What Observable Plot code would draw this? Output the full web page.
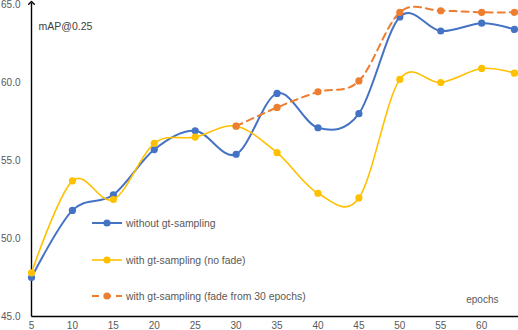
<!DOCTYPE html>
<html>
<head>
<meta charset="utf-8">
<script src="https://cdn.jsdelivr.net/npm/d3@7"></script>
<script src="https://cdn.jsdelivr.net/npm/@observablehq/plot@0.6"></script>
<style>
  body { margin: 0; background: #fff; font-family: "Liberation Sans", Arial, sans-serif; }
  #wrap { position: relative; width: 518px; height: 330px; overflow: hidden; }
  .leg { position: absolute; left: 92px; height: 12px; display: flex; align-items: center; font-size: 10.4px; color: #595959; white-space: nowrap; }
  .leg svg { margin-right: 3px; }
</style>
</head>
<body>
<div id="wrap"></div>
<script>
const epochs = [5, 10, 15, 20, 25, 30, 35, 40, 45, 50, 55, 60, 64];
const withoutGt = [47.5, 51.8, 52.8, 55.7, 56.9, 55.4, 59.3, 57.1, 58.0, 64.2, 63.3, 63.8, 63.4];
const withGtNoFade = [47.8, 53.7, 52.5, 56.1, 56.5, 57.2, 55.5, 52.9, 52.6, 60.2, 60.0, 60.9, 60.6];
const fadeEpochs = [30, 35, 40, 45, 50, 55, 60, 64];
const withGtFade = [57.2, 58.4, 59.4, 60.1, 64.5, 64.6, 64.5, 64.5];
const xTicks = [5, 10, 15, 20, 25, 30, 35, 40, 45, 50, 55, 60];
const yTicks = [45, 50, 55, 60, 65];
const seriesNames = ["without gt-sampling", "with gt-sampling (no fade)", "with gt-sampling (fade from 30 epochs)"];
const colors = ["#4472C4", "#FFC000", "#ED7D31"];

const s1 = epochs.map((e, i) => ({epoch: e, v: withoutGt[i]}));
const s2 = epochs.map((e, i) => ({epoch: e, v: withGtNoFade[i]}));
const s3 = fadeEpochs.map((e, i) => ({epoch: e, v: withGtFade[i]}));

const xDom = [5, 64.5];
const yDom = [45, 65];
const axesData = [
  {x1: xDom[0], x2: xDom[1] + 0.25, y1: yDom[0], y2: yDom[0]},
  {x1: xDom[0], x2: xDom[0], y1: yDom[0], y2: yDom[1] + 0.1}
];

const chart = Plot.plot({
  width: 518,
  height: 330,
  marginLeft: 31,
  marginRight: 0,
  marginTop: 4,
  marginBottom: 14,
  style: {fontFamily: "Liberation Sans, Arial, sans-serif", fontSize: "10px", color: "#595959", background: "#fff", overflow: "visible"},
  x: {domain: xDom, label: null},
  y: {domain: yDom, label: null},
  marks: [
    Plot.axisX({ticks: xTicks, tickSize: 0, tickPadding: 5, tickFormat: d => String(d), fill: "#595959", fontSize: 10, label: null}),
    Plot.axisY({ticks: yTicks, tickSize: 0, tickPadding: 11, tickFormat: d3.format(".1f"), fill: "#595959", fontSize: 10, label: null}),
    Plot.link(axesData, {x1: "x1", x2: "x2", y1: "y1", y2: "y2", stroke: "#000", strokeWidth: 1.4, markerEnd: "arrow"}),
    Plot.line(s1, {x: "epoch", y: "v", stroke: colors[0], strokeWidth: 2, curve: "catmull-rom", tension: 0}),
    Plot.dot(s1, {x: "epoch", y: "v", r: 3.6, fill: colors[0]}),
    Plot.line(s2, {x: "epoch", y: "v", stroke: colors[1], strokeWidth: 1.6, curve: "catmull-rom", tension: 0}),
    Plot.dot(s2, {x: "epoch", y: "v", r: 3.6, fill: colors[1]}),
    Plot.line(s3, {x: "epoch", y: "v", stroke: colors[2], strokeWidth: 2, strokeDasharray: "7,5", curve: "catmull-rom", tension: 0}),
    Plot.dot(s3, {x: "epoch", y: "v", r: 3.6, fill: colors[2]}),
    Plot.text(["mAP@0.25"], {frameAnchor: "top-left", dx: 7, dy: 18, fill: "#404040", fontSize: 10.5, textAnchor: "start"}),
    Plot.text(["epochs"], {frameAnchor: "bottom-right", dx: -20, dy: -14, fill: "#595959", fontSize: 10, textAnchor: "end"})
  ]
});

const wrap = document.getElementById("wrap");
wrap.appendChild(chart);

const legTops = [217, 254, 290];
seriesNames.forEach((name, i) => {
  const row = document.createElement("div");
  row.className = "leg";
  row.style.top = legTops[i] + "px";
  const dash = i === 2 ? ' stroke-dasharray="7,5"' : '';
  const sw = i === 1 ? 1.6 : 2;
  row.innerHTML = `<svg width="31" height="12"><line x1="0" x2="30" y1="6" y2="6" stroke="${colors[i]}" stroke-width="${sw}"${dash}/><circle cx="15" cy="6" r="3.6" fill="${colors[i]}"/></svg><span>${name}</span>`;
  wrap.appendChild(row);
});
</script>
</body>
</html>
